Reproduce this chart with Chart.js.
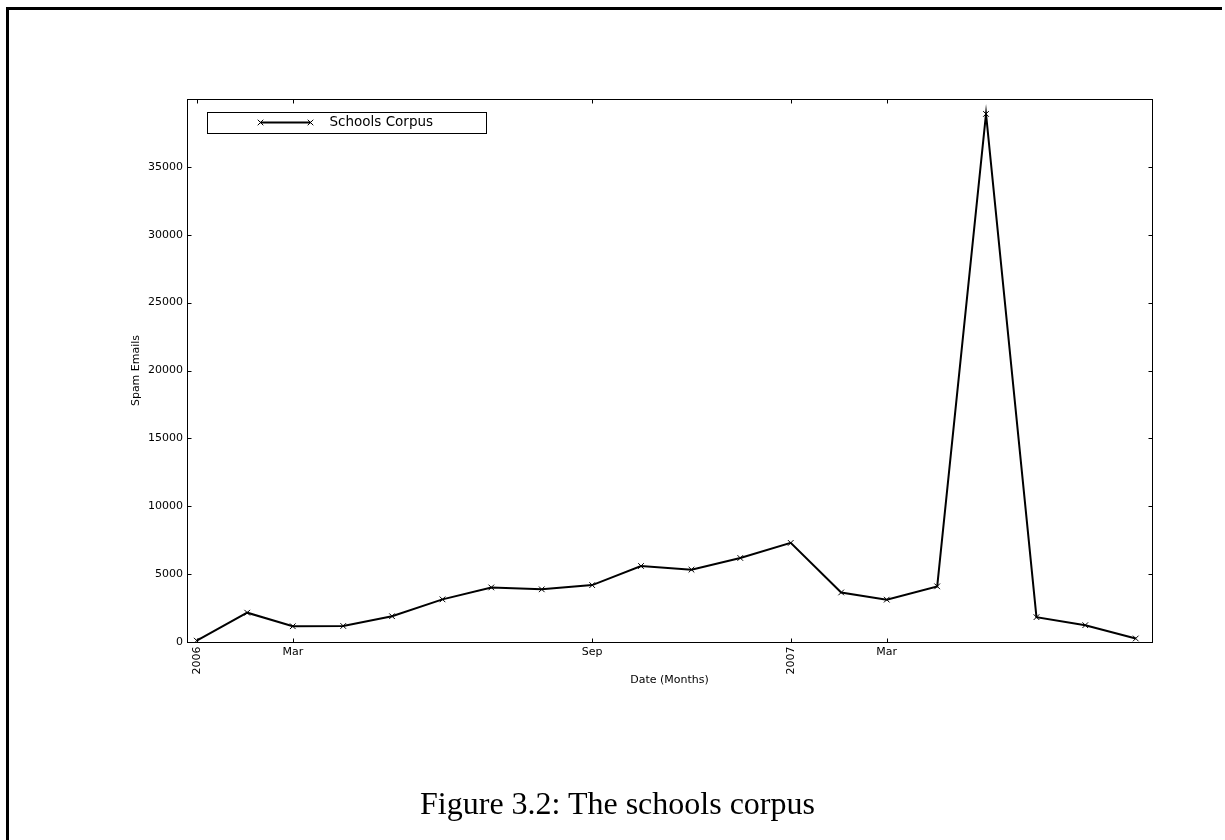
<!DOCTYPE html>
<html>
<head>
<meta charset="utf-8">
<script src="https://cdn.jsdelivr.net/npm/chart.js@4.4.1/dist/chart.umd.min.js"></script>
<style>
  html, body { margin: 0; padding: 0; background: #fff; }
  body { width: 1225px; height: 840px; position: relative; overflow: hidden; }
  #frame { position: absolute; left: 6px; top: 7px; width: 1216px; height: 840px;
           border-left: 3px solid #000; border-top: 3px solid #000; box-sizing: border-box; }
  #chart { position: absolute; left: 0; top: 0; }
  #caption { position: absolute; left: 0; width: 1235px; top: 785px; text-align: center;
             font-family: "Liberation Serif", "Times New Roman", serif; font-size: 32px; color: #000; }
</style>
</head>
<body>
<div id="frame"></div>
<canvas id="chart" width="1225" height="840"></canvas>
<div id="caption">Figure 3.2: The schools corpus</div>
<script>
// Monthly spam counts for the schools corpus
const months = ['2006-01','2006-02','2006-03','2006-04','2006-05','2006-06','2006-07','2006-08',
                '2006-09','2006-10','2006-11','2006-12','2007-01','2007-02','2007-03','2007-04',
                '2007-05','2007-06','2007-07','2007-08'];
const spamCounts = [100, 2160, 1160, 1180, 1900, 3140, 4020, 3880,
                    4190, 5600, 5330, 6190, 7300, 3650, 3120, 4100,
                    38900, 1830, 1240, 260];
const seriesLabel = 'Schools Corpus';

// Date axis tick positions and their labels
const tickMonths = ['2006-01','2006-03','2006-09','2007-01','2007-03'];
const tickLabels = ['2006','Mar','Sep','2007','Mar'];

// Y axis ticks
const yTicks = [0, 5000, 10000, 15000, 20000, 25000, 30000, 35000, 40000];

const DAY = 86400000;
const ORIGIN = Date.UTC(2006, 0, 1);
function dayOf(ym) {
  const [y, m] = ym.split('-').map(Number);
  return (Date.UTC(y, m - 1, 1) - ORIGIN) / DAY;
}

const points = months.map((m, i) => ({ x: dayOf(m), y: spamCounts[i] }));
const tickDays = tickMonths.map(dayOf);

const FONT = '"DejaVu Sans", sans-serif';

// Frame, inward tick marks, date labels and the boxed legend
const decorations = {
  id: 'decorations',
  afterDraw(chart) {
    const ctx = chart.ctx;
    const a = chart.chartArea;
    const xs = chart.scales.x, ys = chart.scales.y;
    const L = Math.round(a.left) + 0.5, R = Math.round(a.right) + 0.5;
    const T = Math.round(a.top) + 0.5, B = Math.round(a.bottom) + 0.5;
    ctx.save();
    ctx.strokeStyle = '#000';
    ctx.lineWidth = 1;
    ctx.strokeRect(L, T, R - L, B - T);

    const tl = 4;
    ctx.beginPath();
    yTicks.forEach(v => {
      const py = Math.round(ys.getPixelForValue(v)) + 0.5;
      ctx.moveTo(L, py); ctx.lineTo(L + tl, py);
      ctx.moveTo(R, py); ctx.lineTo(R - tl, py);
    });
    tickDays.forEach(d => {
      const px = Math.round(xs.getPixelForValue(d)) + 0.5;
      ctx.moveTo(px, T); ctx.lineTo(px, T + tl);
      ctx.moveTo(px, B); ctx.lineTo(px, B - tl);
    });
    ctx.stroke();

    // date labels: years stand upright, months lie flat
    ctx.fillStyle = '#000';
    ctx.font = '11px ' + FONT;
    tickDays.forEach((d, i) => {
      const px = xs.getPixelForValue(d);
      const text = tickLabels[i];
      if (/^\d{4}$/.test(text)) {
        ctx.save();
        ctx.translate(px, B + 4);
        ctx.rotate(-Math.PI / 2);
        ctx.textAlign = 'right';
        ctx.textBaseline = 'middle';
        ctx.fillText(text, 0, 0);
        ctx.restore();
      } else {
        ctx.textAlign = 'center';
        ctx.textBaseline = 'top';
        ctx.fillText(text, px, B + 4);
      }
    });

    // legend
    const ds = chart.data.datasets[0];
    const bx = L + 19, by = T + 12, bw = 279, bh = 21;
    ctx.strokeStyle = '#000';
    ctx.lineWidth = 1;
    ctx.strokeRect(Math.round(bx) + 0.5, Math.round(by) + 0.5, bw, bh);
    const ly = Math.round(by + bh / 2) + 0.5;
    const x1 = bx + 54, x2 = bx + 104;
    ctx.strokeStyle = ds.borderColor;
    ctx.lineWidth = ds.borderWidth;
    ctx.beginPath(); ctx.moveTo(x1, ly); ctx.lineTo(x2, ly); ctx.stroke();
    ctx.lineWidth = 1;
    const r = 2.8;
    [x1, x2].forEach(cx => {
      ctx.beginPath();
      ctx.moveTo(cx - r, ly - r); ctx.lineTo(cx + r, ly + r);
      ctx.moveTo(cx - r, ly + r); ctx.lineTo(cx + r, ly - r);
      ctx.stroke();
    });
    ctx.font = '13.5px ' + FONT;
    ctx.textAlign = 'left';
    ctx.textBaseline = 'middle';
    ctx.fillStyle = '#000';
    ctx.fillText(ds.label, bx + 123, ly);
    ctx.restore();
  }
};

new Chart(document.getElementById('chart'), {
  type: 'line',
  data: {
    datasets: [{
      label: seriesLabel,
      data: points,
      borderColor: '#000',
      borderWidth: 2,
      backgroundColor: '#000',
      pointStyle: 'crossRot',
      pointRadius: 4,
      pointBorderWidth: 1,
      pointBorderColor: '#000',
      tension: 0,
      fill: false
    }]
  },
  options: {
    responsive: false,
    animation: false,
    devicePixelRatio: 1,
    layout: { padding: { left: 125, top: 99, right: 73, bottom: 140 } },
    plugins: { legend: { display: false }, tooltip: { enabled: false } },
    scales: {
      x: {
        type: 'linear',
        min: -6,
        max: 587,
        grid: { display: false, drawTicks: false },
        border: { display: false },
        ticks: { display: false },
        afterBuildTicks(scale) { scale.ticks = tickDays.map(v => ({ value: v })); },
        afterFit(scale) { scale.height = 58; scale.paddingLeft = 0; scale.paddingRight = 0; },
        title: {
          display: true, text: 'Date (Months)', color: '#000',
          font: { family: FONT, size: 11 }, padding: { top: 0, bottom: 13 }
        }
      },
      y: {
        min: 0,
        max: 40000,
        grid: { display: false, drawTicks: false },
        border: { display: false },
        afterBuildTicks(scale) { scale.ticks = yTicks.map(v => ({ value: v })); },
        afterFit(scale) { scale.width = 62; scale.paddingTop = 0; scale.paddingBottom = 0; },
        ticks: {
          color: '#000',
          padding: 4,
          font: { family: FONT, size: 11 },
          callback: v => (v >= 40000 ? '' : String(v))
        },
        title: {
          display: true, text: 'Spam Emails', color: '#000',
          font: { family: FONT, size: 11 }, padding: { top: 5, bottom: 0 }
        }
      }
    }
  },
  plugins: [decorations]
});
</script>
</body>
</html>
